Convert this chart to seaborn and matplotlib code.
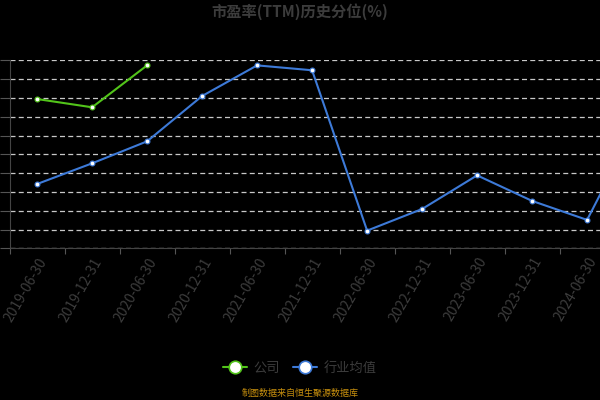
import numpy as np
import pandas as pd
import matplotlib
matplotlib.use("Agg")
import matplotlib.pyplot as plt
from matplotlib.lines import Line2D
import seaborn as sns

# ---------------- data ----------------
DATES = ["2019-06-30", "2019-12-31", "2020-06-30", "2020-12-31",
         "2021-06-30", "2021-12-31", "2022-06-30", "2022-12-31",
         "2023-06-30", "2023-12-31", "2024-06-30", "2024-12-31"]
INDUSTRY = [34.2, 45.2, 56.9, 81.0, 97.3, 94.7, 9.4, 20.9, 38.8, 25.2, 15.1, 72.0]
COMPANY = [79.4, 75.0, 97.3]

TITLE = "市盈率(TTM)历史分位(%)"
SOURCE = "制图数据来自恒生聚源数据库"
LABEL_COMPANY = "公司"
LABEL_INDUSTRY = "行业均值"

GREEN = "#52c41a"
BLUE = "#3d7ad8"
TEXT_GREY = "#3c3c3c"

sns.set_style("dark")
plt.rcParams["font.family"] = ["Noto Sans CJK SC", "DejaVu Sans"]

df_ind = pd.DataFrame({"pos": np.arange(len(INDUSTRY)), "value": INDUSTRY})
df_com = pd.DataFrame({"pos": np.arange(len(COMPANY)), "value": COMPANY})

fig = plt.figure(figsize=(6, 4), dpi=100, facecolor="black")
# plot area is wider than the canvas: the last category is cut off on the right
ax = fig.add_axes([9.6 / 600, 1 - 248.3 / 400, 660 / 600, (248.3 - 60.3) / 400])
ax.set_facecolor("black")

sns.lineplot(data=df_ind, x="pos", y="value", ax=ax, color=BLUE, linewidth=1.5,
             marker="o", markersize=3.5, markerfacecolor="white",
             markeredgecolor=BLUE, markeredgewidth=0.8, zorder=3)
sns.lineplot(data=df_com, x="pos", y="value", ax=ax, color=GREEN, linewidth=1.5,
             marker="o", markersize=3.5, markerfacecolor="white",
             markeredgecolor=GREEN, markeredgewidth=0.8, zorder=4)

ax.set_xlim(-0.5, len(DATES) - 0.5)
ax.set_ylim(0, 100)
ax.set_xlabel("")
ax.set_ylabel("")

# grid
ax.set_yticks(np.arange(0, 101, 10))
ax.set_yticklabels([])
ax.yaxis.grid(True, color="#c8c8c8", linestyle=(0, (4, 2.6)), linewidth=0.9)
ax.xaxis.grid(False)
ax.tick_params(axis="y", length=7, width=0.8, color="#555555", left=True)

# x ticks: labels at centers, tick marks at band boundaries
ax.set_xticks(np.arange(len(DATES)))
ax.set_xticklabels(DATES, rotation=60, ha="right", rotation_mode="anchor",
                   color=TEXT_GREY, fontsize=10)
ax.tick_params(axis="x", length=0, pad=5)
# the last label falls outside the visible canvas
ax.get_xticklabels()[-1].set_visible(False)
ax.set_xticks(np.arange(-0.5, len(DATES), 1), minor=True)
ax.tick_params(axis="x", which="minor", length=4, width=0.8, color="#555555",
               bottom=True)

for side in ["top", "right"]:
    ax.spines[side].set_visible(False)
for side in ["left", "bottom"]:
    ax.spines[side].set_visible(True)
    ax.spines[side].set_color("#444444")
    ax.spines[side].set_linewidth(0.8)

fig.text(0.5, 1 - 12 / 400, TITLE, ha="center", va="center",
         color=TEXT_GREY, fontsize=11, fontweight="bold")

handles = [
    Line2D([], [], color=GREEN, linewidth=1.5, marker="o", markersize=9,
           markerfacecolor="white", markeredgecolor=GREEN, markeredgewidth=1.2),
    Line2D([], [], color=BLUE, linewidth=1.5, marker="o", markersize=9,
           markerfacecolor="white", markeredgecolor=BLUE, markeredgewidth=1.2),
]
fig.legend(handles, [LABEL_COMPANY, LABEL_INDUSTRY], loc="center",
           bbox_to_anchor=(0.5, 1 - 368 / 400), ncol=2, frameon=False,
           fontsize=9.5, labelcolor=TEXT_GREY, handlelength=1.8,
           handletextpad=0.5, columnspacing=1.0)

fig.text(0.5, 1 - 393 / 400, SOURCE, ha="center", va="center",
         color="#c8900e", fontsize=6.5)

fig.savefig("out.png", dpi=100, facecolor="black")
